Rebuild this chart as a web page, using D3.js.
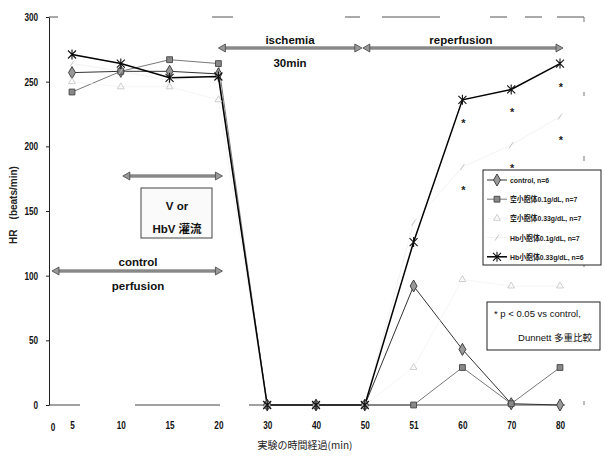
<!DOCTYPE html>
<html>
<head>
<meta charset="utf-8">
<script src="https://cdn.jsdelivr.net/npm/d3@7"></script>
<style>
  html, body { margin: 0; padding: 0; background: #fff; }
  svg { display: block; }
</style>
</head>
<body>
<svg id="chart" width="606" height="457"></svg>
<script>
// Time points (min) along the category axis
const categories = ["5", "10", "15", "20", "30", "40", "50", "51", "60", "70", "80"];

// Heart rate (beats/min) per group
const control   = [257, 258, 258, 256, 0, 0, 0, 92, 43, 1, 0];
const empty01   = [242, 258, 267, 264, 0, 0, 0, 0, 29, 1, 29];
const empty033  = [250, 246, 246, 236, 0, 0, 0, 29, 97, 92, 92];
const hbv01     = [264, 258, 251, 255, 0, 0, 0, 141, 184, 201, 223];
const hbv033    = [271, 264, 253, 254, 0, 0, 0, 126, 236, 244, 264];

const seriesNames = [
  "control, n=6",
  "空小胞体0.1g/dL, n=7",
  "空小胞体0.33g/dL, n=7",
  "Hb小胞体0.1g/dL, n=7",
  "Hb小胞体0.33g/dL, n=6"
];

// p < 0.05 vs control marks: [time point, group index]
const significant = [["60", 3], ["70", 3], ["80", 3], ["60", 4], ["70", 4], ["80", 4]];

const yTicks = [0, 50, 100, 150, 200, 250, 300];

const SANS = "'Liberation Sans',Arial,'Noto Sans CJK JP',sans-serif";
const CJK = "'Noto Sans CJK JP','Liberation Sans',sans-serif";

const svg = d3.select("#chart");
svg.append("rect").attr("width", 606).attr("height", 457).attr("fill", "#fff");

const x = d3.scalePoint().domain(categories).range([72, 560]);
const y = d3.scaleLinear().domain([0, 300]).range([405, 17]);
const left = 49, right = 584;

// plot frame (top and right edges are faint and broken)
svg.append("line").attr("x1", left).attr("x2", right).attr("y1", y(300)).attr("y2", y(300))
  .attr("stroke", "#555").attr("stroke-width", 1)
  .attr("stroke-dasharray", "9,154,21,112,15,22,58,50,17,18,17,15,30");
svg.append("line").attr("x1", right).attr("x2", right).attr("y1", y(300)).attr("y2", y(0))
  .attr("stroke", "#777").attr("stroke-width", 1)
  .attr("stroke-dasharray", "5,70,4,60,5,45,6,50");
svg.append("line").attr("x1", left).attr("x2", 565).attr("y1", y(0)).attr("y2", y(0))
  .attr("stroke", "#444").attr("stroke-width", 1)
  .attr("stroke-dasharray", "31,55,85,29,400");

// condensed bold numerals for the tick labels
function condense(sel) {
  sel.attr("font-family", SANS).attr("font-size", 10.5).attr("font-weight", "bold")
    .attr("fill", "#111").attr("transform", "scale(0.78,1)");
}

// y axis
const yAxis = svg.append("g").attr("transform", `translate(${left},0)`)
  .call(d3.axisLeft(y).tickValues(yTicks).tickSize(3).tickSizeOuter(0)
    .tickPadding(11).tickFormat(d3.format("d")));
yAxis.select(".domain").attr("stroke", "#222");
yAxis.selectAll(".tick line").attr("stroke", "#222");
yAxis.selectAll("text").call(condense);

// x axis (labels only)
const xAxis = svg.append("g").attr("transform", `translate(0,${y(0)})`)
  .call(d3.axisBottom(x).tickSize(0).tickPadding(17));
xAxis.select(".domain").remove();
xAxis.selectAll("text").call(condense);
svg.append("g").attr("transform", `translate(${left + 4},${y(0) + 26})`)
  .append("text").attr("text-anchor", "middle").text("0").call(condense);

// axis titles
svg.append("text").attr("transform", "translate(17,205) rotate(-90)")
  .attr("text-anchor", "middle").attr("font-family", SANS).attr("font-size", 10)
  .attr("font-weight", "bold").attr("fill", "#222").text("HR　(beats/min)");
svg.append("text").attr("x", 305).attr("y", 449).attr("text-anchor", "middle")
  .attr("font-family", CJK).attr("font-size", 10)
  .attr("fill", "#222").text("実験の時間経過(min)");

// annotation arrows
function arrow(x1, x2, yy) {
  const g = svg.append("g");
  g.append("line").attr("x1", x1 + 5).attr("x2", x2 - 5).attr("y1", yy).attr("y2", yy)
    .attr("stroke", "#555").attr("stroke-width", 3.2);
  g.append("line").attr("x1", x1 + 5).attr("x2", x2 - 5).attr("y1", yy).attr("y2", yy)
    .attr("stroke", "#bbb").attr("stroke-width", 1.2);
  g.append("path").attr("d", `M${x2},${yy}L${x2 - 7},${yy - 4}L${x2 - 7},${yy + 4}Z`)
    .attr("fill", "#999").attr("stroke", "#444").attr("stroke-width", 0.8);
  g.append("path").attr("d", `M${x1},${yy}L${x1 + 7},${yy - 4}L${x1 + 7},${yy + 4}Z`)
    .attr("fill", "#999").attr("stroke", "#444").attr("stroke-width", 0.8);
}
function label(tx, ty, str, size, anchor) {
  svg.append("text").attr("x", tx).attr("y", ty).attr("text-anchor", anchor || "middle")
    .attr("font-family", SANS).attr("font-size", size).attr("font-weight", "bold")
    .attr("fill", "#111").text(str);
}
arrow(x("20"), x("50") - 3, 48);
arrow(x("50") - 2, x("80") + 3, 48);
label(290, 44, "ischemia", 11.5);
label(290, 67, "30min", 11.5);
label(461, 44, "reperfusion", 11.5);

arrow(x("10") + 2, x("20") + 4, 176);
svg.append("rect").attr("x", 141).attr("y", 188).attr("width", 71).attr("height", 50)
  .attr("fill", "#fafafa").attr("stroke", "#444").attr("stroke-width", 1);
label(177, 210, "V or", 11.5);
label(177, 233, "HbV 灌流", 11.5);

arrow(left + 3, x("20") + 4, 271);
label(138, 266, "control", 11.5);
label(138, 290, "perfusion", 11.5);

// series
const series = [
  { v: control,  stroke: "#333", width: 1,   sym: "diamond" },
  { v: empty01,  stroke: "#555", width: 0.8, sym: "square" },
  { v: empty033, stroke: "#f2f2f2", width: 0.8, sym: "triangle" },
  { v: hbv01,    stroke: "#efefef", width: 0.8, sym: "slash" },
  { v: hbv033,   stroke: "#000", width: 1.5, sym: "star" }
];

const line = d3.line().x((d, i) => x(categories[i])).y(d => y(d));

function marker(g, sym) {
  if (sym === "diamond") {
    g.append("path").attr("d", d3.symbol(d3.symbolDiamond, 42)())
      .attr("fill", "#999").attr("stroke", "#333").attr("stroke-width", 0.9);
  } else if (sym === "square") {
    g.append("path").attr("d", d3.symbol(d3.symbolSquare, 34)())
      .attr("fill", "#888").attr("stroke", "#444").attr("stroke-width", 0.9);
  } else if (sym === "triangle") {
    g.append("path").attr("d", d3.symbol(d3.symbolTriangle, 20)())
      .attr("fill", "none").attr("stroke", "#c8c8c8").attr("stroke-width", 0.9);
  } else if (sym === "slash") {
    g.append("path").attr("d", "M-2,3L2,-3")
      .attr("fill", "none").attr("stroke", "#bdbdbd").attr("stroke-width", 0.9);
  } else if (sym === "star") {
    g.append("path").attr("d", "M-4,-4L4,4M-4,4L4,-4M0,-5L0,5")
      .attr("fill", "none").attr("stroke", "#111").attr("stroke-width", 1.1);
  }
}

series.forEach(s => {
  svg.append("path").datum(s.v).attr("d", line)
    .attr("fill", "none").attr("stroke", s.stroke).attr("stroke-width", s.width);
});
series.forEach(s => {
  s.v.forEach((d, i) => {
    const g = svg.append("g").attr("transform", `translate(${x(categories[i])},${y(d)})`);
    marker(g, s.sym);
  });
});

// significance marks just below the significant points
significant.forEach(([c, k]) => {
  const v = series[k].v[categories.indexOf(c)];
  svg.append("text").attr("x", x(c) + 1).attr("y", y(v) + 27).attr("text-anchor", "middle")
    .attr("font-family", SANS).attr("font-size", 11).attr("font-weight", "bold")
    .attr("fill", "#222").text("*");
});

// legend
const lg = svg.append("g").attr("transform", "translate(483,170)");
lg.append("rect").attr("width", 118).attr("height", 95)
  .attr("fill", "#fff").attr("stroke", "#222").attr("stroke-width", 1);
seriesNames.forEach((name, i) => {
  const ly = 10 + i * 19.2;
  const s = series[i];
  lg.append("line").attr("x1", 4).attr("x2", 24).attr("y1", ly).attr("y2", ly)
    .attr("stroke", s.stroke).attr("stroke-width", s.width);
  marker(lg.append("g").attr("transform", `translate(14,${ly})`), s.sym);
  lg.append("g").attr("transform", `translate(27,${ly + 3}) scale(0.86,1)`)
    .append("text").attr("font-family", SANS).attr("font-size", 8)
    .attr("font-weight", "bold").attr("fill", "#222").text(name);
});

// significance note
const nb = svg.append("g").attr("transform", "translate(487,302)");
nb.append("rect").attr("width", 113).attr("height", 48)
  .attr("fill", "#fff").attr("stroke", "#222").attr("stroke-width", 1);
nb.append("text").attr("x", 7).attr("y", 15).attr("font-family", SANS)
  .attr("font-size", 9.5).attr("fill", "#111").text("* p < 0.05 vs  control,");
nb.append("text").attr("x", 105).attr("y", 39).attr("text-anchor", "end").attr("font-family", SANS)
  .attr("font-size", 9.5).attr("fill", "#111").text("Dunnett 多重比較");
</script>
</body>
</html>
